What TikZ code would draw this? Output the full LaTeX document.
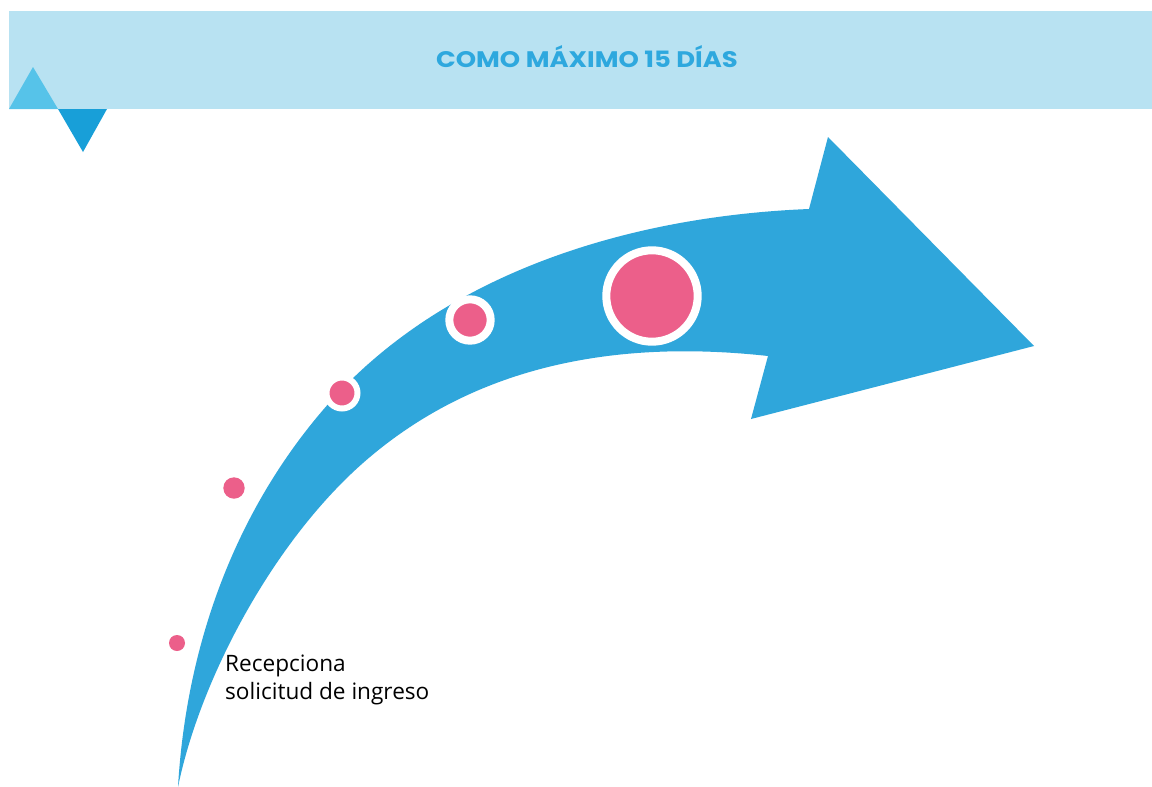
\documentclass[tikz,border=0pt]{standalone}
\usepackage{fontspec}
\setmainfont{Open Sans}
\newfontfamily\titlefont[FakeStretch=1.15]{Poppins}
\definecolor{bandblue}{HTML}{B8E2F2}
\definecolor{titleblue}{HTML}{2EA8DE}
\definecolor{arrowblue}{HTML}{2FA6DB}
\definecolor{lighttri}{HTML}{56C3E9}
\definecolor{darktri}{HTML}{189FD8}
\definecolor{dotpink}{HTML}{EC5F8A}
\tikzset{
  dot/.style={circle, fill=dotpink, inner sep=0pt},
  ringdot/.style={dot, draw=white},
}
\begin{document}
\begin{tikzpicture}[x=1pt,y=-1pt]
\useasboundingbox (0,0) rectangle (1152,787);
\fill[white] (0,0) rectangle (1152,787);
% header band
\fill[bandblue] (9,11) rectangle (1152,109);
\fill[lighttri] (9,109) -- (33,67) -- (58,109) -- cycle;
\fill[darktri] (58,109) -- (107,109) -- (83,152) -- cycle;
\node[anchor=base, text=titleblue, font=\titlefont\bfseries\fontsize{22.5}{26}\selectfont, inner sep=0pt] (title) at (587,67.5) {COMO MÁXIMO 15 DÍAS};
% curved arrow
\fill[arrowblue]
  (178,787) .. controls (186,650) and (232,516.4) .. (323,410)
  .. controls (440,273.2) and (629,216.2) .. (809,209)
  -- (828,137) -- (1034,346) -- (751,419) -- (768,356)
  .. controls (618,339.5) and (475.5,364) .. (363,463)
  .. controls (273,542.2) and (200,679.2) .. (178,787)
  -- cycle;
% dots
\node[dot, minimum size=16pt] (d1) at (177,643) {};
\node[dot, minimum size=21.4pt] (d2) at (234,488) {};
\node[ringdot, line width=6pt, minimum size=31pt] (d3) at (342,393) {};
\node[ringdot, line width=8pt, minimum size=41.4pt] (d4) at (470,320) {};
\node[ringdot, line width=8pt, minimum size=91.4pt] (d5) at (652,296) {};
% label
\node[anchor=base west, inner sep=0pt, align=left, font=\fontsize{22.6}{28}\selectfont] (lbl) at (225,699) {Recepciona\\solicitud de ingreso};
\end{tikzpicture}
\end{document}
